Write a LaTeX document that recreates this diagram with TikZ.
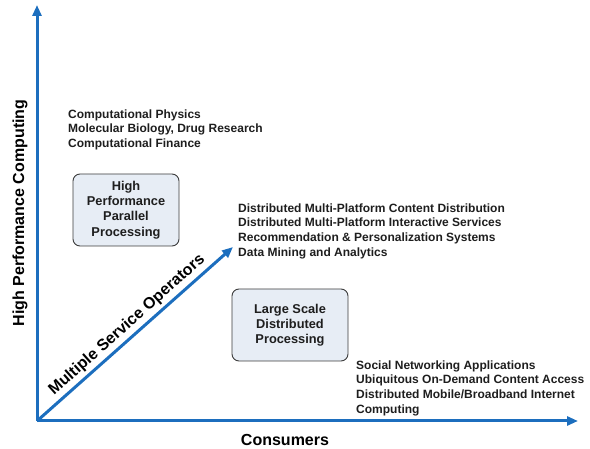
\documentclass[tikz,border=0pt]{standalone}
\usepackage{fontspec}
\setmainfont{Liberation Sans}
\usetikzlibrary{arrows.meta}
\definecolor{axisblue}{RGB}{28,110,190}
\definecolor{boxfill}{RGB}{231,237,245}
\definecolor{boxline}{RGB}{60,60,60}
\definecolor{txt}{RGB}{30,30,30}
\begin{document}
\begin{tikzpicture}[x=1pt,y=-1pt,
  axis/.style={draw=axisblue,line width=3pt,-{Triangle[length=11pt,width=9pt]}},
  procbox/.style={draw=boxline,line width=0.9pt,fill=boxfill,rounded corners=7pt,
    minimum width=106pt,minimum height=72pt,align=center,text=txt,
    font=\bfseries\fontsize{12.8}{15.2}\selectfont,inner sep=2pt},
  itemlist/.style={anchor=north west,align=left,text=txt,inner sep=0pt,
    font=\bfseries\fontsize{12}{14.6}\selectfont},
  axislabel/.style={text=black,font=\bfseries\fontsize{16}{18}\selectfont,inner sep=0pt}
]
\useasboundingbox (0,0) rectangle (590,449);

% axes
\coordinate (o) at (37,421);
\coordinate (ytip) at (37,5);
\coordinate (xtip) at (578,421);
\coordinate (dtip) at (233,247);
\draw[axis] (o) -- (ytip);
\draw[axis] (o) -- (xtip);
\draw[axis] (o) -- (dtip);

% axis labels
\node[axislabel,rotate=90] (hpc) at (20,213) {High Performance Computing};
\node[axislabel] (cons) at (285,440) {Consumers};
\node[axislabel,rotate=41.7] (mso) at (127,325) {Multiple Service Operators};

% processing boxes
\node[procbox] (hppp) at (126,210) {High\\Performance\\Parallel\\Processing};
\node[procbox,minimum width=116pt] (lsdp) at (290,325) {Large Scale\\Distributed\\Processing};

% application lists
\node[itemlist] (hpclist) at (68,109.5) {Computational Physics\\Molecular Biology, Drug Research\\Computational Finance};
\node[itemlist] (msolist) at (238,203.5) {Distributed Multi-Platform Content Distribution\\Distributed Multi-Platform Interactive Services\\Recommendation \& Personalization Systems\\Data Mining and Analytics};
\node[itemlist] (conslist) at (356,360.5) {Social Networking Applications\\Ubiquitous On-Demand Content Access\\Distributed Mobile/Broadband Internet\\Computing};
\end{tikzpicture}
\end{document}
